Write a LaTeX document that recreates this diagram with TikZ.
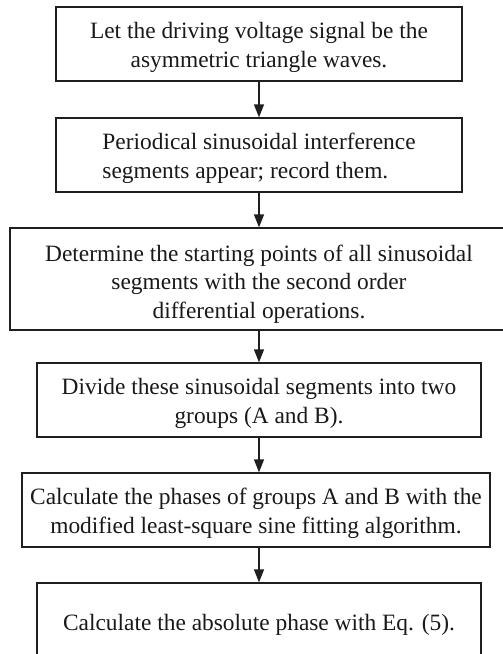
\documentclass[tikz,border=0pt]{standalone}
\usepackage{fontspec}
\setmainfont{Liberation Serif}
\usetikzlibrary{arrows.meta}
\begin{document}
\begin{tikzpicture}[x=1pt,y=-1pt,
  boxtext/.style={font=\fontsize{23.4}{28.5}\selectfont, text=black!90,
    inner sep=0pt, align=center, yshift=-3.5pt},
  stepbox/.style={draw=black!88, line width=1.3pt, rectangle, inner sep=0pt},
  flow/.style={draw=black!88, line width=1.3pt,
    -{Triangle[length=13pt,width=10pt]}}]
\useasboundingbox (0,0) rectangle (503,654);
\clip (0,0) rectangle (503,654);

% frames of the six steps
\node[stepbox, minimum width=406pt, minimum height=74pt] (b1) at (259,44) {};
\node[stepbox, minimum width=406pt, minimum height=74pt] (b2) at (259,155) {};
\node[stepbox, minimum width=498pt, minimum height=102pt] (b3) at (259,279) {};
\node[stepbox, minimum width=444pt, minimum height=74pt] (b4) at (259,400) {};
\node[stepbox, minimum width=468pt, minimum height=74pt] (b5) at (256,510) {};
\node[stepbox, minimum width=444pt, minimum height=76pt] (b6) at (259,621) {};

% texts of the steps
\node[boxtext] (t1) at (b1.center)
  {Let the driving voltage signal be the\\asymmetric triangle waves.};
\node[boxtext, align=left] (t2) at (b2.center)
  {Periodical sinusoidal interference\\segments appear; record them.};
\node[boxtext, yshift=-1.5pt] (t3) at (b3.center)
  {Determine the starting points of all sinusoidal\\segments with the second order\\differential operations.};
\node[boxtext] (t4) at (b4.center)
  {Divide these sinusoidal segments into two\\groups (A and B).};
\node[boxtext] (t5) at (b5.center)
  {Calculate the phases of groups A and B with the\\modified least-square sine fitting algorithm.};
\node[boxtext] (t6) at (b6.center)
  {Calculate the absolute phase with Eq. (5).};

% connectors
\draw[flow] (b1.south) -- (b2.north);
\draw[flow] (b2.south) -- (b3.north);
\draw[flow] (b3.south) -- (b4.north);
\draw[flow] (b4.south) -- (b4.south |- b5.north);
\draw[flow] (b5.south -| b6.north) -- (b6.north);
\end{tikzpicture}
\end{document}
